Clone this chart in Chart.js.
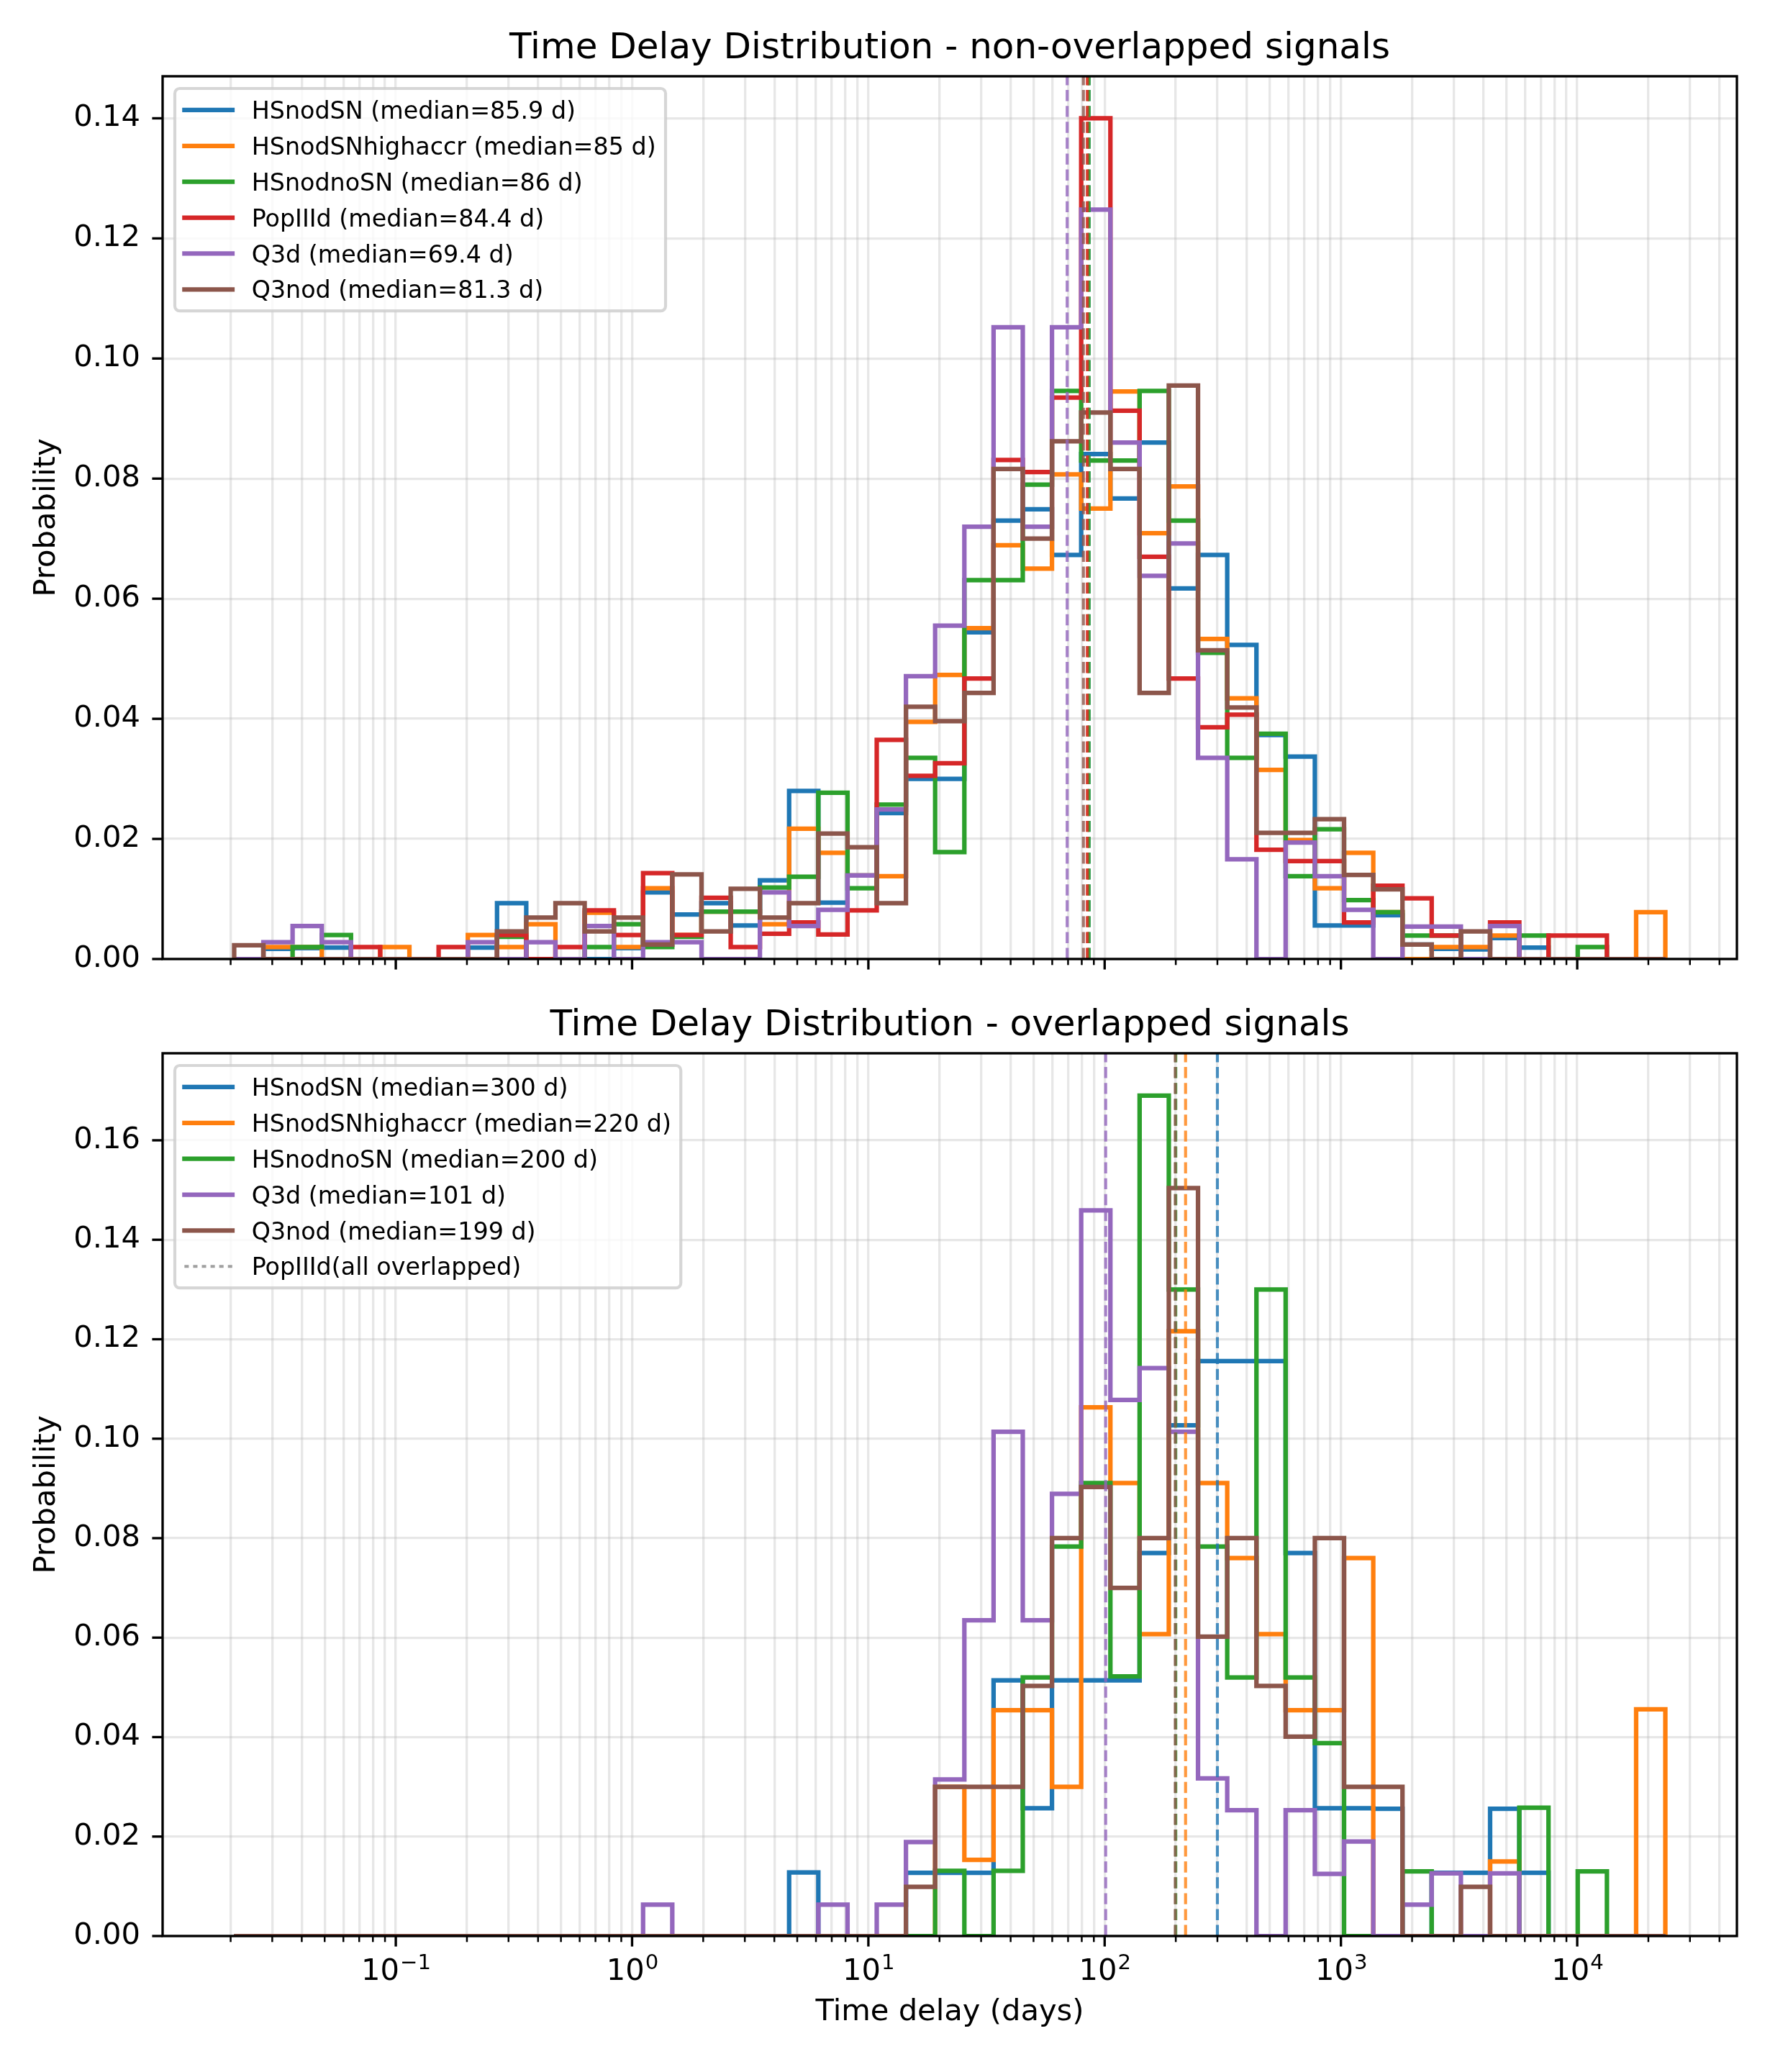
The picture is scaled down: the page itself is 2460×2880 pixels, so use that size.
<!DOCTYPE html>
<html lang="en">
<head>
<meta charset="UTF-8">
<title>Time Delay Distribution</title>
<style>
  html, body { margin: 0; padding: 0; background: #ffffff; }
  #wrap { position: relative; width: 2460px; height: 2880px; }
  canvas { position: absolute; left: 0; }
  #topChart { top: 0; }
  #bottomChart { top: 1400px; }
</style>
</head>
<body>
<div id="wrap">
  <canvas id="topChart" width="2460" height="1400"></canvas>
  <canvas id="bottomChart" width="2460" height="1480"></canvas>
</div>
<script src="https://cdn.jsdelivr.net/npm/chart.js@4"></script>
<script>
// --- histogram bins (log spaced, 49 bins) ---
const binCount = 49;
const binMinDays = 0.0207;
const binMaxDays = 23600;

// --- non-overlapped signals ---
const topNames = ['HSnodSN', 'HSnodSNhighaccr', 'HSnodnoSN', 'PopIIId', 'Q3d', 'Q3nod'];
const topMedians = [85.9, 85, 86, 84.4, 69.4, 81.3];
const topHSnodSN = [0, 0.0017, 0.0018, 0.0019, 0, 0, 0, 0, 0.0019, 0.0093, 0, 0, 0, 0.0018, 0.0111, 0.0074, 0.0093, 0.0056, 0.0131, 0.0280, 0.0094, 0.0139, 0.0243, 0.0300, 0.0300, 0.0544, 0.0730, 0.0749, 0.0673, 0.0841, 0.0767, 0.0860, 0.0617, 0.0673, 0.0523, 0.0373, 0.0337, 0.0056, 0.0056, 0.0073, 0.0024, 0.0017, 0.0016, 0.0035, 0.0019, 0, 0, 0, 0];
const topHSnodSNhighaccr = [0, 0.002, 0.002, 0, 0, 0.002, 0, 0, 0.004, 0.002, 0.0058, 0, 0.0077, 0.002, 0.0118, 0.004, 0.0079, 0.0079, 0.0058, 0.0217, 0.0177, 0.0139, 0.0138, 0.0395, 0.0473, 0.0551, 0.0689, 0.0650, 0.0807, 0.0750, 0.0945, 0.0709, 0.0787, 0.0533, 0.0434, 0.0315, 0.0198, 0.0118, 0.0177, 0.0078, 0, 0.002, 0.002, 0.0039, 0, 0, 0, 0, 0.0078];
const topHSnodnoSN = [0, 0, 0.002, 0.004, 0, 0, 0, 0, 0, 0.0037, 0, 0, 0.002, 0.0058, 0.002, 0.0037, 0.0079, 0.0079, 0.0119, 0.0137, 0.0277, 0.0118, 0.0257, 0.0335, 0.0178, 0.0631, 0.0631, 0.0790, 0.0946, 0.0830, 0.0830, 0.0946, 0.0730, 0.0510, 0.0335, 0.0375, 0.0138, 0.0216, 0.0098, 0.0078, 0.0039, 0.0039, 0, 0, 0.0039, 0, 0.002, 0, 0];
const topPopIIId = [0, 0, 0, 0, 0.002, 0, 0, 0.002, 0, 0.004, 0, 0.002, 0.0081, 0.004, 0.0143, 0.004, 0.0102, 0.002, 0.0042, 0.0061, 0.0041, 0.0081, 0.0365, 0.0305, 0.0326, 0.0467, 0.0831, 0.0811, 0.0935, 0.1400, 0.0913, 0.0670, 0.0467, 0.0386, 0.0407, 0.0182, 0.0163, 0.0163, 0.0061, 0.0122, 0.0101, 0.0039, 0, 0.0061, 0, 0.0039, 0.0039, 0, 0];
const topQ3d = [0, 0.0028, 0.0055, 0.0028, 0, 0, 0, 0, 0.0028, 0, 0.0028, 0, 0.0055, 0, 0.0028, 0.0028, 0, 0, 0.0111, 0.0055, 0.0082, 0.0139, 0.0249, 0.0471, 0.0555, 0.0720, 0.1052, 0.0720, 0.1052, 0.1248, 0.0860, 0.0638, 0.0692, 0.0335, 0.0166, 0, 0.0194, 0.0138, 0.0082, 0, 0.0054, 0.0054, 0, 0.0055, 0, 0, 0, 0, 0];
const topQ3nod = [0.0023, 0, 0, 0, 0, 0, 0, 0, 0, 0.0046, 0.0069, 0.0093, 0.0046, 0.0069, 0.0024, 0.0141, 0.0046, 0.0117, 0.0069, 0.0093, 0.0209, 0.0186, 0.0093, 0.0420, 0.0396, 0.0443, 0.0816, 0.0700, 0.0862, 0.0910, 0.0816, 0.0443, 0.0955, 0.0514, 0.0419, 0.0210, 0.0210, 0.0233, 0.0140, 0.0116, 0.0024, 0, 0.0046, 0, 0, 0, 0, 0, 0];
const topYTicks = [0, 0.02, 0.04, 0.06, 0.08, 0.10, 0.12, 0.14];

// --- overlapped signals ---
const bottomNames = ['HSnodSN', 'HSnodSNhighaccr', 'HSnodnoSN', 'Q3d', 'Q3nod'];
const bottomMedians = [300, 220, 200, 101, 199];
const bottomHSnodSN = [0, 0, 0, 0, 0, 0, 0, 0, 0, 0, 0, 0, 0, 0, 0, 0, 0, 0, 0, 0.0128, 0, 0, 0, 0.0127, 0.0127, 0.0127, 0.0514, 0.0257, 0.0514, 0.0514, 0.0514, 0.0770, 0.1027, 0.1156, 0.1156, 0.1156, 0.0770, 0.0257, 0.0257, 0.0256, 0, 0.0127, 0.0127, 0.0256, 0.0127, 0, 0, 0, 0];
const bottomHSnodSNhighaccr = [0, 0, 0, 0, 0, 0, 0, 0, 0, 0, 0, 0, 0, 0, 0, 0, 0, 0, 0, 0, 0, 0, 0, 0, 0.0300, 0.0153, 0.0454, 0.0454, 0.0300, 0.1063, 0.0911, 0.0607, 0.1216, 0.0911, 0.0760, 0.0607, 0.0454, 0.0454, 0.0760, 0, 0, 0, 0, 0.0150, 0, 0, 0, 0, 0.0456];
const bottomHSnodnoSN = [0, 0, 0, 0, 0, 0, 0, 0, 0, 0, 0, 0, 0, 0, 0, 0, 0, 0, 0, 0, 0, 0, 0, 0, 0.0131, 0, 0.0131, 0.0520, 0.0783, 0.0911, 0.0522, 0.1690, 0.1300, 0.0783, 0.0520, 0.1300, 0.0520, 0.0388, 0, 0, 0.0130, 0, 0, 0, 0.0258, 0, 0.0130, 0, 0];
const bottomQ3d = [0, 0, 0, 0, 0, 0, 0, 0, 0, 0, 0, 0, 0, 0, 0.0063, 0, 0, 0, 0, 0, 0.0063, 0, 0.0063, 0.0189, 0.0315, 0.0635, 0.1014, 0.0635, 0.0889, 0.1459, 0.1078, 0.1142, 0.1014, 0.0317, 0.0253, 0, 0.0253, 0.0125, 0.0190, 0, 0.0063, 0.0126, 0, 0.0126, 0, 0, 0, 0, 0];
const bottomQ3nod = [0, 0, 0, 0, 0, 0, 0, 0, 0, 0, 0, 0, 0, 0, 0, 0, 0, 0, 0, 0, 0, 0, 0, 0.0099, 0.0300, 0.0300, 0.0300, 0.0503, 0.0800, 0.0903, 0.0700, 0.0800, 0.1504, 0.0602, 0.0800, 0.0503, 0.0401, 0.0800, 0.0300, 0.0300, 0, 0, 0.0099, 0, 0, 0, 0, 0, 0];
const bottomYTicks = [0, 0.02, 0.04, 0.06, 0.08, 0.10, 0.12, 0.14, 0.16];

const colors = {
  HSnodSN: '#1f77b4', HSnodSNhighaccr: '#ff7f0e', HSnodnoSN: '#2ca02c',
  PopIIId: '#d62728', Q3d: '#9467bd', Q3nod: '#8c564b'
};

const PT = 300 / 72;           // pixels per point of the original figure
const FONT = '"DejaVu Sans"';
const gridColor = 'rgba(176,176,176,0.3)';

// bin edges and x range (5% margin in log space, like matplotlib)
const logLo = Math.log10(binMinDays), logHi = Math.log10(binMaxDays);
const binEdges = [];
for (let i = 0; i <= binCount; i++) binEdges.push(Math.pow(10, logLo + i * (logHi - logLo) / binCount));
const xMin = Math.pow(10, logLo - 0.05 * (logHi - logLo));
const xMax = Math.pow(10, logHi + 0.05 * (logHi - logLo));

const xTickValues = [];
for (let k = -2; k <= 4; k++) {
  for (let s = 1; s <= 9; s++) {
    const v = s * Math.pow(10, k);
    if (v >= xMin && v <= xMax) xTickValues.push(v);
  }
}
const isDecade = v => Math.abs(Math.log10(v) - Math.round(Math.log10(v))) < 1e-9;

function stepPoints(values) {
  const pts = [{ x: binEdges[0], y: 0 }];
  values.forEach((v, i) => pts.push({ x: binEdges[i], y: v }));
  pts.push({ x: binEdges[values.length], y: 0 });
  return pts;
}

function withAlpha(hex, a) {
  const n = parseInt(hex.slice(1), 16);
  return `rgba(${n >> 16},${(n >> 8) & 255},${n & 255},${a})`;
}

function drawLegend(ctx, x0, y0, items) {
  const fs = 8 * PT;
  const pad = 0.4 * fs, hl = 2 * fs, htp = 0.8 * fs, rowH = 33.2, gap = 0.5 * fs;
  ctx.font = `${fs}px ${FONT}`;
  const textW = Math.max(...items.map(it => ctx.measureText(it.label).width));
  const w = pad + hl + htp + textW + pad;
  const h = 2 * pad + items.length * rowH + (items.length - 1) * gap;
  ctx.beginPath();
  ctx.roundRect(x0, y0, w, h, 0.2 * fs);
  ctx.fillStyle = 'rgba(255,255,255,0.8)';
  ctx.fill();
  ctx.lineWidth = PT;
  ctx.strokeStyle = 'rgba(204,204,204,0.8)';
  ctx.stroke();
  items.forEach((it, i) => {
    const cy = y0 + pad + rowH / 2 + i * (rowH + gap);
    ctx.beginPath();
    ctx.moveTo(x0 + pad, cy);
    ctx.lineTo(x0 + pad + hl, cy);
    ctx.strokeStyle = it.color;
    if (it.dotted) {
      ctx.lineWidth = PT;
      ctx.lineCap = 'butt';
      ctx.setLineDash([1.45 * PT, 1.45 * PT]);
    } else {
      ctx.lineWidth = 1.5 * PT;
      ctx.lineCap = 'square';
      ctx.setLineDash([]);
    }
    ctx.stroke();
    ctx.setLineDash([]);
    ctx.lineCap = 'butt';
    ctx.fillStyle = '#000';
    ctx.textAlign = 'left';
    ctx.textBaseline = 'alphabetic';
    ctx.fillText(it.label, x0 + pad + hl + htp, cy + 12.2);
  });
}

function decorPlugin(panel) {
  return {
    id: 'decor',
    afterDraw(chart) {
      const ctx = chart.ctx;
      const a = chart.chartArea;
      const xs = chart.scales.x, ys = chart.scales.y;
      ctx.save();

      // spines
      ctx.strokeStyle = '#000';
      ctx.lineWidth = 0.8 * PT;
      ctx.strokeRect(a.left, a.top, a.right - a.left, a.bottom - a.top);

      // y tick marks
      ys.ticks.forEach(t => {
        const y = ys.getPixelForValue(t.value);
        ctx.beginPath();
        ctx.moveTo(a.left - 3.5 * PT, y);
        ctx.lineTo(a.left, y);
        ctx.stroke();
      });

      // x tick marks (major and minor)
      xs.ticks.forEach(t => {
        const major = isDecade(t.value);
        const x = xs.getPixelForValue(t.value);
        ctx.lineWidth = major ? 0.8 * PT : 0.6 * PT;
        ctx.beginPath();
        ctx.moveTo(x, a.bottom);
        ctx.lineTo(x, a.bottom + (major ? 3.5 : 2) * PT);
        ctx.stroke();
      });

      ctx.fillStyle = '#000';
      // x tick labels 10^k
      if (panel.showXLabels) {
        xs.ticks.filter(t => isDecade(t.value)).forEach(t => {
          const k = Math.round(Math.log10(t.value));
          const x = xs.getPixelForValue(t.value);
          const exp = k < 0 ? '\u2212' + Math.abs(k) : String(k);
          ctx.font = `${10 * PT}px ${FONT}`;
          const w1 = ctx.measureText('10').width;
          ctx.font = `${7 * PT}px ${FONT}`;
          const w2 = ctx.measureText(exp).width;
          const x0 = x - (w1 + w2) / 2;
          ctx.textAlign = 'left';
          ctx.textBaseline = 'alphabetic';
          ctx.font = `${10 * PT}px ${FONT}`;
          ctx.fillText('10', x0, a.bottom + 61);
          ctx.font = `${7 * PT}px ${FONT}`;
          ctx.fillText(exp, x0 + w1 + 1, a.bottom + 46);
        });
        ctx.font = `${10 * PT}px ${FONT}`;
        ctx.textAlign = 'center';
        ctx.fillText('Time delay (days)', (a.left + a.right) / 2, a.bottom + 117);
      }

      // title
      ctx.font = `${12 * PT}px ${FONT}`;
      ctx.textAlign = 'center';
      ctx.textBaseline = 'alphabetic';
      ctx.fillText(panel.title, (a.left + a.right) / 2, a.top - 6 * PT);

      // y label
      ctx.font = `${10 * PT}px ${FONT}`;
      ctx.save();
      ctx.translate(76, (a.top + a.bottom) / 2);
      ctx.rotate(-Math.PI / 2);
      ctx.fillText('Probability', 0, 0);
      ctx.restore();

      drawLegend(ctx, a.left + 17, a.top + 17, panel.legend);
      ctx.restore();
    }
  };
}

function buildChart(canvasId, panel) {
  const datasets = [];
  panel.names.forEach((name, i) => {
    datasets.push({
      label: name,
      data: stepPoints(panel.values[i]),
      borderColor: colors[name],
      borderWidth: 1.5 * PT,
      stepped: 'before',
      pointRadius: 0,
      fill: false,
      clip: 0,
      order: 100 - i
    });
  });
  panel.names.forEach((name, i) => {
    datasets.push({
      label: name + ' median',
      data: [{ x: panel.medians[i], y: 0 }, { x: panel.medians[i], y: panel.yMax }],
      borderColor: withAlpha(colors[name], 0.8),
      borderWidth: PT,
      borderDash: [3.7 * PT, 1.6 * PT],
      pointRadius: 0,
      fill: false,
      clip: 0,
      order: 50 - i
    });
  });

  return new Chart(document.getElementById(canvasId), {
    type: 'line',
    data: { datasets },
    options: {
      responsive: false,
      animation: false,
      devicePixelRatio: 1,
      events: [],
      layout: { padding: { left: 0, right: 46, top: panel.padTop, bottom: panel.padBottom } },
      plugins: { legend: { display: false }, tooltip: { enabled: false }, title: { display: false } },
      scales: {
        x: {
          type: 'logarithmic',
          min: xMin,
          max: xMax,
          afterBuildTicks: s => { s.ticks = xTickValues.map(v => ({ value: v })); },
          afterFit: s => { s.height = 0; },
          ticks: { display: false },
          grid: { color: gridColor, lineWidth: 0.8 * PT, drawTicks: false },
          border: { display: false }
        },
        y: {
          type: 'linear',
          min: 0,
          max: panel.yMax,
          afterBuildTicks: s => { s.ticks = panel.yTicks.map(v => ({ value: v })); },
          afterFit: s => { s.width = 226; },
          ticks: {
            autoSkip: false,
            padding: 31,
            color: '#000',
            font: { family: 'DejaVu Sans', size: 10 * PT },
            callback: v => Number(v).toFixed(2)
          },
          grid: { color: gridColor, lineWidth: 0.8 * PT, drawTicks: false },
          border: { display: false }
        }
      }
    },
    plugins: [decorPlugin(panel)]
  });
}

buildChart('topChart', {
  title: 'Time Delay Distribution - non-overlapped signals',
  names: topNames,
  medians: topMedians,
  values: [topHSnodSN, topHSnodSNhighaccr, topHSnodnoSN, topPopIIId, topQ3d, topQ3nod],
  yMax: 0.147,
  yTicks: topYTicks,
  padTop: 106,
  padBottom: 67,
  showXLabels: false,
  legend: topNames.map((n, i) => ({ label: `${n} (median=${topMedians[i]} d)`, color: colors[n] }))
});

buildChart('bottomChart', {
  title: 'Time Delay Distribution - overlapped signals',
  names: bottomNames,
  medians: bottomMedians,
  values: [bottomHSnodSN, bottomHSnodSNhighaccr, bottomHSnodnoSN, bottomQ3d, bottomQ3nod],
  yMax: 0.1775,
  yTicks: bottomYTicks,
  padTop: 64,
  padBottom: 189,
  showXLabels: true,
  legend: bottomNames.map((n, i) => ({ label: `${n} (median=${bottomMedians[i]} d)`, color: colors[n] }))
    .concat([{ label: 'PopIIId(all overlapped)', color: 'rgba(128,128,128,0.75)', dotted: true }])
});
</script>
</body>
</html>
